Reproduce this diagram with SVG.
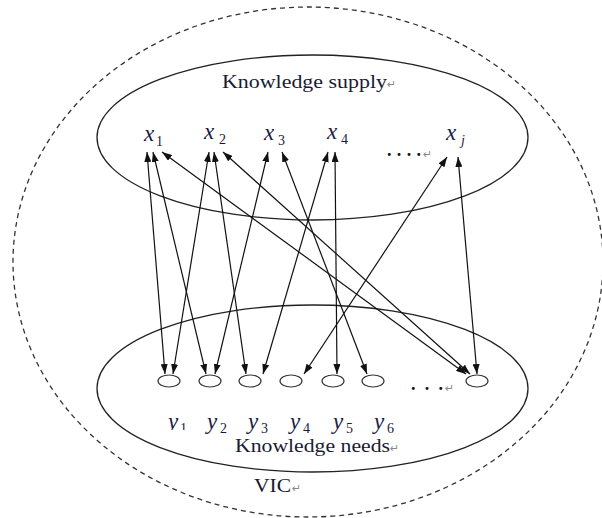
<svg xmlns="http://www.w3.org/2000/svg" width="602" height="518" viewBox="0 0 602 518">
<style>
.bnd{fill:none;stroke:#222;stroke-width:1.3}
.dash{fill:none;stroke:#333;stroke-width:1.3;stroke-dasharray:5 4}
.node{fill:#fff;stroke:#333;stroke-width:1.2}
.lnk{stroke:#111;stroke-width:1.2;fill:none;marker-start:url(#ah);marker-end:url(#ah)}
.t{font-family:"Liberation Serif","Times New Roman",serif;font-size:18px;fill:#1a1a33}
.v{font-family:"Liberation Serif","Times New Roman",serif;font-style:italic;font-size:23px;fill:#1a1a40}
.s{font-family:"Liberation Serif","Times New Roman",serif;font-size:14px;fill:#1a1a40}
.rm{font-family:"DejaVu Sans",sans-serif;font-size:11px;fill:#888}
.dots{font-family:"Liberation Serif",serif;font-size:18px;font-weight:bold;fill:#111}
</style>
<defs>
<marker id="ah" viewBox="0 0 10 7" refX="10" refY="3.5" markerWidth="10" markerHeight="7" markerUnits="userSpaceOnUse" orient="auto-start-reverse">
<path d="M0,0 L10,3.5 L0,7 z" fill="#111"/>
</marker>
<clipPath id="c1"><rect x="160" y="400" width="40" height="30"/></clipPath>
<clipPath id="cn"><rect x="470" y="400" width="30" height="22"/></clipPath>
</defs>
<g id="vic">
<ellipse class="dash" cx="308" cy="262" rx="295" ry="255"/>
<text class="t" x="254" y="492" textLength="37" lengthAdjust="spacingAndGlyphs">VIC</text>
<text class="rm" x="292" y="492">↵</text>
</g>
<g id="supply">
<ellipse class="bnd" cx="312.5" cy="137.5" rx="215.5" ry="82.5"/>
<text class="t" x="222" y="88" textLength="165" lengthAdjust="spacingAndGlyphs">Knowledge supply</text>
<text class="rm" x="387" y="88">↵</text>
</g>
<g id="needs">
<ellipse class="bnd" cx="312.5" cy="388.5" rx="215.5" ry="83.5"/>
<text class="t" x="235" y="452" textLength="155" lengthAdjust="spacingAndGlyphs">Knowledge needs</text>
<text class="rm" x="390" y="452" font-size="9">↵</text>
</g>
<g id="x1"><text class="v" x="144" y="141">x</text><text class="s" x="156" y="146">1</text></g>
<g id="x2"><text class="v" x="204" y="139">x</text><text class="s" x="219" y="144">2</text></g>
<g id="x3"><text class="v" x="264" y="140">x</text><text class="s" x="278" y="145">3</text></g>
<g id="x4"><text class="v" x="327" y="139">x</text><text class="s" x="341" y="144">4</text></g>
<g id="xj"><text class="v" x="446" y="140">x</text><text class="s" x="461" y="145" font-style="italic">j</text></g>
<g id="xdots"><text class="dots" x="387" y="156" textLength="34" lengthAdjust="spacing">....</text><text class="rm" x="423" y="158" font-size="6">↵</text></g>
<g id="y1"><ellipse class="node" cx="169" cy="381" rx="11" ry="6"/><g clip-path="url(#c1)"><text class="v" x="168" y="429" font-size="20">y</text><text class="s" x="180" y="433" font-size="12">1</text></g></g>
<g id="y2"><ellipse class="node" cx="210" cy="381" rx="11" ry="6"/><text class="v" x="207" y="429" font-size="20">y</text><text class="s" x="220" y="433" font-size="12">2</text></g>
<g id="y3"><ellipse class="node" cx="250" cy="381" rx="11" ry="6"/><text class="v" x="248" y="429" font-size="20">y</text><text class="s" x="261" y="433" font-size="12">3</text></g>
<g id="y4"><ellipse class="node" cx="291" cy="381" rx="11" ry="6"/><text class="v" x="290" y="429" font-size="20">y</text><text class="s" x="303" y="433" font-size="12">4</text></g>
<g id="y5"><ellipse class="node" cx="333" cy="381" rx="11" ry="6"/><text class="v" x="333" y="429" font-size="20">y</text><text class="s" x="346" y="433" font-size="12">5</text></g>
<g id="y6"><ellipse class="node" cx="373" cy="381" rx="11" ry="6"/><text class="v" x="374" y="429" font-size="20">y</text><text class="s" x="387" y="433" font-size="12">6</text></g>
<g id="ydots"><text class="dots" x="411" y="390" textLength="32" lengthAdjust="spacing">...</text><text class="rm" x="445" y="392" font-size="10">↵</text></g>
<g id="yn"><ellipse class="node" cx="477" cy="381" rx="11" ry="6"/><g clip-path="url(#cn)"><text class="v" x="477" y="434" font-size="20">y</text></g></g>
<g id="connectors">
<line class="lnk" x1="147" y1="152" x2="165" y2="374"/>
<line class="lnk" x1="153" y1="152" x2="206" y2="374"/>
<line class="lnk" x1="162" y1="152" x2="466" y2="374"/>
<line class="lnk" x1="209" y1="152" x2="173" y2="374"/>
<line class="lnk" x1="214" y1="152" x2="246" y2="374"/>
<line class="lnk" x1="223" y1="152" x2="470" y2="374"/>
<line class="lnk" x1="268" y1="152" x2="215" y2="374"/>
<line class="lnk" x1="282" y1="152" x2="367" y2="374"/>
<line class="lnk" x1="328" y1="152" x2="263" y2="374"/>
<line class="lnk" x1="335" y1="152" x2="337" y2="374"/>
<line class="lnk" x1="447" y1="157" x2="304" y2="374"/>
<line class="lnk" x1="458" y1="157" x2="477" y2="374"/>
</g>
</svg>
